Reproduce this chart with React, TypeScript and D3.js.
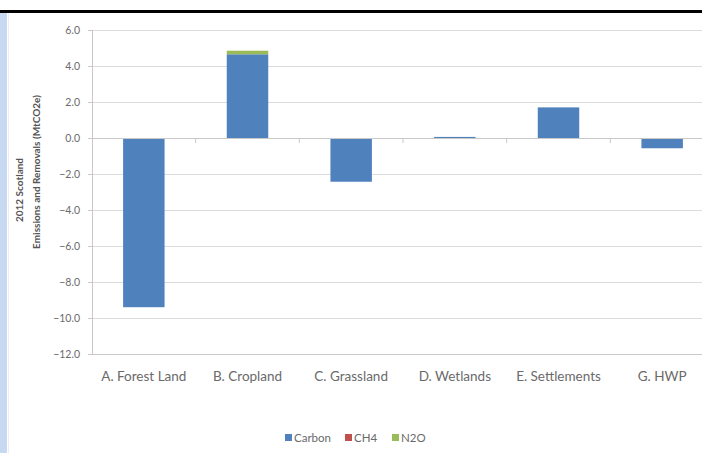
import React from "react";
import * as d3 from "d3";

const categories = ["A. Forest Land", "B. Cropland", "C. Grassland", "D. Wetlands", "E. Settlements", "G. HWP"];
const seriesNames = ["Carbon", "CH4", "N2O"];
const carbon = [-9.4, 4.65, -2.43, 0.06, 1.7, -0.57];
const ch4 = [0.0, 0.0, 0.0, 0.0, 0.0, 0.0];
const n2o = [0.0, 0.2, 0.0, 0.0, 0.0, 0.0];
const yTicks = [6, 4, 2, 0, -2, -4, -6, -8, -10, -12];
const colors = ["#4f81bd", "#c0504d", "#9bbb59"];

const W = 702;
const H = 453;

export default function App() {
  const x = d3.scaleBand<string>().domain(categories).range([92, 714]).paddingInner(0.6).paddingOuter(0.3);
  const y = d3.scaleLinear().domain([-12, 6]).range([354, 30]);
  const rows = categories.map((c, i) => ({ cat: c, Carbon: carbon[i], CH4: ch4[i], N2O: n2o[i] }));
  const stack = d3.stack<any>().keys(seriesNames).offset(d3.stackOffsetDiverging);
  const layers = stack(rows);
  const font = "Lato, 'Liberation Sans', sans-serif";
  const step = x.step();

  return (
    <svg width={W} height={H} style={{ position: "absolute", left: 0, top: 0, background: "#fff" }} fontFamily={font}>
      <rect x={0} y={0} width={W} height={H} fill="#fff" />
      <rect x={0} y={10} width={W} height={3} fill="#000" />
      <rect x={0} y={13} width={7} height={H - 13} fill="#c6d9f0" />
      <line x1={8.5} x2={8.5} y1={13} y2={H} stroke="#eeeeee" />
      {/* gridlines */}
      {yTicks.map((t) => (
        <line key={"g" + t} x1={92} x2={W} y1={y(t) + 0.5} y2={y(t) + 0.5} stroke={t === -12 ? "#c8c8c8" : "#dcdcdc"} strokeWidth={1} />
      ))}
      {/* y axis */}
      <line x1={92.5} x2={92.5} y1={y(6)} y2={y(-12)} stroke="#c8c8c8" />
      {yTicks.map((t) => (
        <line key={"yt" + t} x1={88} x2={92} y1={y(t) + 0.5} y2={y(t) + 0.5} stroke="#c8c8c8" />
      ))}
      {yTicks.map((t) => (
        <text key={"yl" + t} x={80} y={y(t)} dy="0.35em" textAnchor="end" fontSize={10.5} fill="#6a6a6a">
          {d3.format(".1f")(t)}
        </text>
      ))}
      {/* bars */}
      {layers.map((layer, li) =>
        layer.map((d, i) => {
          const y0 = y(d[0]);
          const y1 = y(d[1]);
          const h = Math.abs(y0 - y1);
          if (h < 0.01) return null;
          return (
            <rect
              key={li + "-" + i}
              x={x(categories[i])}
              y={Math.min(y0, y1)}
              width={x.bandwidth()}
              height={Math.max(h, 1)}
              fill={colors[li]}
            />
          );
        })
      )}
      {/* category axis at zero */}
      <line x1={92} x2={W} y1={y(0) + 0.5} y2={y(0) + 0.5} stroke="#c8c8c8" />
      {categories.map((c, i) => (
        <line key={"xt" + i} x1={92 + step * (i + 1)} x2={92 + step * (i + 1)} y1={y(0)} y2={y(0) + 5} stroke="#c8c8c8" />
      ))}
      {categories.map((c) => (
        <text key={"xl" + c} x={(x(c) as number) + x.bandwidth() / 2} y={376} dy="0.35em" textAnchor="middle" fontSize={13.5} fill="#6a6a6a">
          {c}
        </text>
      ))}
      {/* y title */}
      <text transform={`translate(19,190) rotate(-90)`} textAnchor="middle" dy="0.35em" fontSize={10} fontWeight="bold" fill="#555">
        2012 Scotland
      </text>
      <text transform={`translate(36,172) rotate(-90)`} textAnchor="middle" dy="0.35em" fontSize={10} fontWeight="bold" fill="#555">
        Emissions and Removals (MtCO2e)
      </text>
      {/* legend */}
      {seriesNames.map((s, i) => {
        const offs = [285, 345, 392];
        const lx = offs[i];
        return (
          <g key={"lg" + s}>
            <rect x={lx} y={434} width={7} height={7} fill={colors[i]} />
            <text x={lx + 9} y={438} dy="0.35em" fontSize={11.5} fill="#6a6a6a">
              {s}
            </text>
          </g>
        );
      })}
    </svg>
  );
}
